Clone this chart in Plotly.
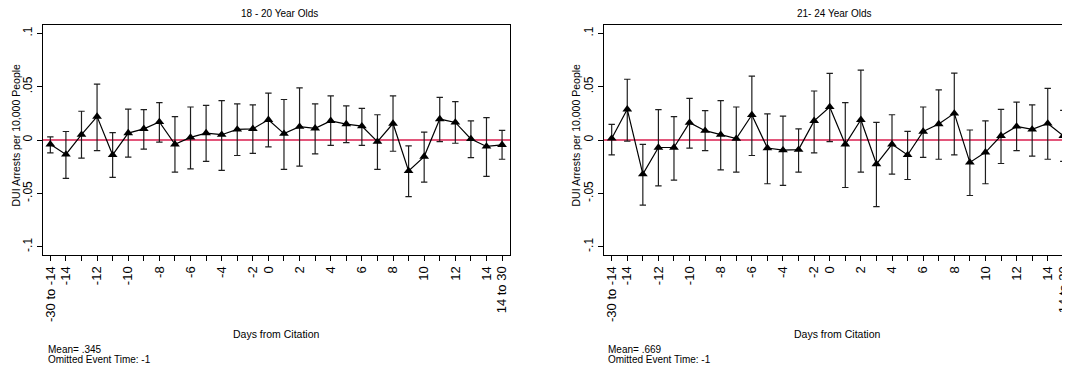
import plotly.graph_objects as go

# ---------------- data ----------------
event_times = ["-30 to -14", "-14", "-13", "-12", "-11", "-10", "-9", "-8", "-7", "-6",
               "-5", "-4", "-3", "-2", "0", "1", "2", "3", "4", "5",
               "6", "7", "8", "9", "10", "11", "12", "13", "14", "14 to 30"]
tick_labels = ["-30 to -14", "-14", "", "-12", "", "-10", "", "-8", "", "-6",
               "", "-4", "", "-2", "0", "", "2", "", "4", "",
               "6", "", "8", "", "10", "", "12", "", "14", "14 to 30"]

y_tick_vals = [-0.1, -0.05, 0, 0.05, 0.1]
y_tick_text = ["-.1", "-.05", "0", ".05", ".1"]

panel_titles = ["18 - 20 Year Olds", "21- 24 Year Olds"]
panel_means = ["Mean= .345", "Mean= .669"]

young_est = [-0.004, -0.0135, 0.005, 0.022, -0.014, 0.0065, 0.0105, 0.017, -0.004, 0.0025,
             0.0065, 0.005, 0.010, 0.0105, 0.019, 0.006, 0.0125, 0.011, 0.018, 0.015,
             0.013, -0.0015, 0.0155, -0.029, -0.0155, 0.0197, 0.0165, 0.001, -0.006, -0.0045]
young_hi = [0.003, 0.008, 0.027, 0.0525, 0.007, 0.029, 0.0285, 0.035, 0.022, 0.031,
            0.0325, 0.037, 0.034, 0.033, 0.044, 0.038, 0.049, 0.034, 0.0415, 0.032,
            0.0297, 0.0237, 0.0415, -0.0055, 0.0075, 0.040, 0.036, 0.018, 0.021, 0.009]
young_lo = [-0.012, -0.036, -0.017, -0.010, -0.035, -0.016, -0.0085, -0.002, -0.030, -0.027,
            -0.020, -0.0285, -0.0145, -0.0125, -0.0065, -0.0275, -0.0245, -0.013, -0.005, -0.0025,
            -0.005, -0.0275, -0.0105, -0.053, -0.0395, -0.0015, -0.003, -0.0165, -0.034, -0.018]

older_est = [0.0015, 0.0288, -0.032, -0.007, -0.007, 0.0163, 0.0088, 0.005, 0.0013, 0.0235,
             -0.0075, -0.0095, -0.009, 0.018, 0.031, -0.004, 0.019, -0.0225, -0.004, -0.014,
             0.008, 0.015, 0.025, -0.021, -0.0115, 0.004, 0.0128, 0.010, 0.0156, 0.004]
older_hi = [0.0147, 0.057, -0.004, 0.0285, 0.022, 0.039, 0.0275, 0.037, 0.031, 0.060,
            0.0245, 0.0225, 0.0105, 0.046, 0.0625, 0.035, 0.0655, 0.0165, 0.0237, 0.0082,
            0.031, 0.047, 0.0628, 0.0094, 0.018, 0.0287, 0.0356, 0.033, 0.0484, 0.0278]
older_lo = [-0.014, -0.001, -0.061, -0.043, -0.0375, -0.0075, -0.010, -0.028, -0.030, -0.0145,
            -0.041, -0.0425, -0.030, -0.012, -0.0015, -0.0445, -0.030, -0.0625, -0.032, -0.037,
            -0.0162, -0.018, -0.014, -0.052, -0.041, -0.022, -0.010, -0.015, -0.018, -0.020]

# ---------------- figure ----------------
OFF = 8  # page body margin shifts the figure by 8px right and down
W, H = 1070 - OFF, 371 - OFF  # fill exactly the visible window
FONT = "Liberation Sans, Arial, Helvetica, sans-serif"
positions = list(range(len(event_times)))


def px(v):
    return (v - OFF) / W


def py(v):
    return 1 - (v - OFF) / H


fig = go.Figure()

panels = [
    (young_est, young_hi, young_lo, "x", "y"),
    (older_est, older_hi, older_lo, "x2", "y2"),
]
for est, hi, lo, xa, ya in panels:
    up = [h - e for h, e in zip(hi, est)]
    down = [e - l for e, l in zip(est, lo)]
    fig.add_trace(go.Scatter(
        x=positions, y=est, xaxis=xa, yaxis=ya, mode="lines+markers",
        customdata=event_times,
        line=dict(color="black", width=1.2),
        marker=dict(symbol="triangle-up", size=8.5, color="black"),
        error_y=dict(type="data", array=up, arrayminus=down, symmetric=False,
                     color="#1e1e1e", thickness=1.2, width=3.2),
        showlegend=False,
    ))

# panel geometry (screen pixels)
p1_left, p1_right = 42.7, 510.0
p2_left = 604.0
top_px, bot_px = 25.3, 255.0
ydom = [py(bot_px), py(top_px)]
yr = [-0.1078, 0.1076]

common_x = dict(
    tickmode="array", tickvals=positions, ticktext=tick_labels, tickangle=-90,
    ticks="outside", ticklen=5, tickwidth=1, tickcolor="black",
    showline=True, linecolor="black", linewidth=1.3, mirror=True,
    showgrid=False, zeroline=False, ticklabeloverflow="allow",
    tickfont=dict(family=FONT, size=13, color="black"),
)
common_y = dict(
    tickmode="array", tickvals=y_tick_vals, ticktext=y_tick_text, tickangle=-90,
    ticks="outside", ticklen=5, tickwidth=1, tickcolor="black",
    showline=True, linecolor="black", linewidth=1.3,
    showgrid=False, zeroline=False, range=yr, domain=ydom,
    tickfont=dict(family=FONT, size=12, color="black"),
)

fig.update_layout(
    width=W, height=H,
    margin=dict(l=0, r=0, t=0, b=0, autoexpand=False),
    paper_bgcolor="white", plot_bgcolor="white",
    font=dict(family=FONT, color="black"),
    xaxis=dict(common_x, domain=[px(p1_left), px(p1_right)], range=[-0.49, 29.51], anchor="y"),
    xaxis2=dict(common_x, domain=[px(p2_left), 1.0], range=[-0.494, 29.43], anchor="y2"),
    yaxis=dict(common_y, anchor="x", mirror=True),
    yaxis2=dict(common_y, anchor="x2", mirror=False),
)

# red zero reference lines
for xa, ya in [("x", "y"), ("x2", "y2")]:
    fig.add_shape(type="line", xref=f"{xa} domain", yref=ya, x0=0, x1=1, y0=0, y1=0,
                  line=dict(color="#d81e4e", width=1.6), layer="below")

ann = []
title_x = [279, 834]
xtitle_x = [276.5, 837.5]
ylab_x = [15.5, 575.5]
note_x = [45.5, 606]
for i in range(2):
    ann.append(dict(text=panel_titles[i], x=px(title_x[i]), y=py(13.3), xref="paper", yref="paper",
                    showarrow=False, xanchor="center", yanchor="middle",
                    font=dict(family=FONT, size=10, color="black")))
    ann.append(dict(text="Days from Citation", x=px(xtitle_x[i]), y=py(333.5), xref="paper", yref="paper",
                    showarrow=False, xanchor="center", yanchor="middle",
                    font=dict(family=FONT, size=10.5, color="black")))
    ann.append(dict(text="DUI Arrests per 10,000 People", x=px(ylab_x[i]), y=py(135),
                    xref="paper", yref="paper", textangle=-90,
                    showarrow=False, xanchor="center", yanchor="middle",
                    font=dict(family=FONT, size=10.5, color="black")))
    ann.append(dict(text=panel_means[i], x=px(note_x[i]), y=py(349), xref="paper", yref="paper",
                    showarrow=False, xanchor="left", yanchor="middle",
                    font=dict(family=FONT, size=10, color="black")))
    ann.append(dict(text="Omitted Event Time: -1", x=px(note_x[i]), y=py(359.3), xref="paper", yref="paper",
                    showarrow=False, xanchor="left", yanchor="middle",
                    font=dict(family=FONT, size=10, color="black")))
fig.update_layout(annotations=ann)

fig.write_html("out.html")
